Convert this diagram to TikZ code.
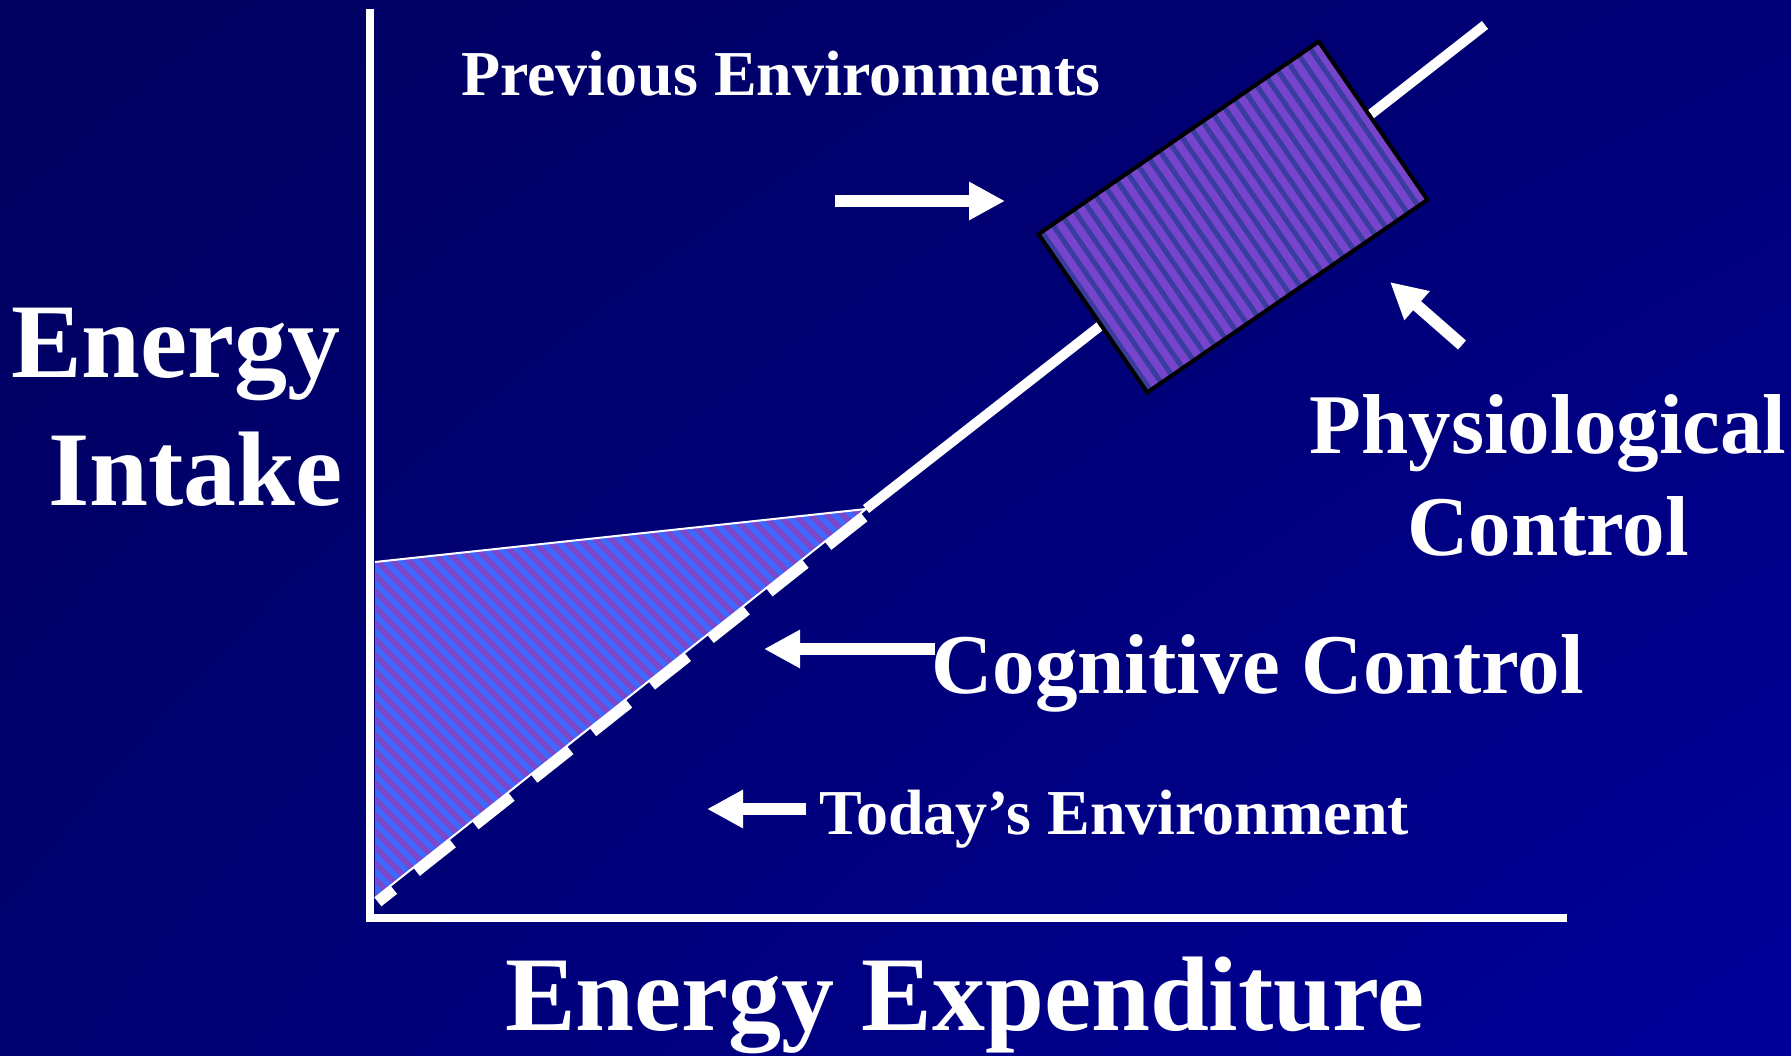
\documentclass[tikz,border=0pt]{standalone}
\usepackage{fontspec}
\setmainfont{Liberation Serif}
\usepackage{tikz}
\usetikzlibrary{arrows.meta, positioning, shadings}
\definecolor{bgTopLeft}{HTML}{00005E}
\definecolor{bgTopRight}{HTML}{000078}
\definecolor{bgBottomLeft}{HTML}{000070}
\definecolor{bgBottomRight}{HTML}{00009A}
\definecolor{colorBox}{HTML}{7744CC}
\definecolor{colorBoxStripe}{HTML}{3A3CA0}
\definecolor{colorWedge}{HTML}{7B48CC}
\definecolor{colorWedgeStripe}{HTML}{3A6AFF}
\tikzset{
  label big/.style={text=white, inner sep=0pt, font=\bfseries\fontsize{106}{127}\selectfont},
  label mid/.style={text=white, inner sep=0pt, font=\bfseries\fontsize{85}{102}\selectfont},
  label small/.style={text=white, inner sep=0pt, font=\bfseries\fontsize{64}{77}\selectfont},
  axis line/.style={white, line width=8pt},
  fat arrow/.style={white, line width=12pt, -{Triangle[length=36pt, width=36pt]}},
}

\begin{document}
\begin{tikzpicture}[x=1pt, y=-1pt]
\useasboundingbox (0,0) rectangle (1791,1056);
\shade[upper left=bgTopLeft, upper right=bgTopRight, lower left=bgBottomLeft, lower right=bgBottomRight] (0,0) rectangle (1791,1056);

% axes and the diagonal
\coordinate (ytop) at (370,9);
\coordinate (origin) at (370,918);
\coordinate (xend) at (1567,918);
\coordinate (foot) at (375,898);
\coordinate (apex) at (866,509);
\coordinate (high) at (1485,25);
\coordinate (wedgetop) at (375,562);
\draw[axis line] (ytop) -- (origin) -- (xend);
\draw[white, line width=11pt, dash pattern=on 46pt off 29pt, dash phase=26pt, transform canvas={shift={(3,4)}}] (foot) -- (apex);

% cognitive wedge
\fill[colorWedge] (wedgetop) -- (apex) -- (foot) -- cycle;
\begin{scope}
\clip (wedgetop) -- (apex) -- (foot) -- cycle;
\foreach \c in {-528,-512,...,368}
  \draw[colorWedgeStripe, line width=5pt] (500+\c,500) -- (900+\c,900);
\end{scope}
\draw[white, line width=2pt] (wedgetop) -- (apex) -- (foot);
\draw[white, line width=10pt] (apex) -- (high);

% physiological box
\begin{scope}[shift={(1233,217)}, rotate=34.5]
\fill[colorBox] (-170,-96) rectangle (170,96);
\begin{scope}
\clip (-170,-96) rectangle (170,96);
\foreach \u in {-166,-153,...,170}
  \draw[colorBoxStripe, line width=5pt] (\u,-100) -- (\u,100);
\end{scope}
\draw[black, line width=4pt] (-170,-96) rectangle (170,96);
\end{scope}

% labels
\node[label big, anchor=base east] (ylab1) at (341,378) {Energy};
\node[label big, anchor=base east] (ylab2) at (343,505) {Intake};
\node[label big, anchor=base] (xlab) at (965,1030) {Energy Expenditure};
\node[label small, anchor=base west] (prevenv) at (461,96) {Previous Environments};
\node[label mid, anchor=base] (phys1) at (1548,453) {Physiological};
\node[label mid, anchor=base] (phys2) at (1548,555) {Control};
\node[label mid, anchor=base west] (cogctrl) at (931,693) {Cognitive Control};
\node[label small, anchor=base west] (todayenv) at (819,834) {Today’s Environment};

% arrows
\coordinate (prevTail) at (835,201);
\coordinate (prevTip) at (1005,201);
\coordinate (physTail) at (1462,345);
\coordinate (physTip) at (1390,282);
\coordinate (cogTail) at (935,649);
\coordinate (cogTip) at (764,649);
\coordinate (todayTail) at (806,809);
\coordinate (todayTip) at (707,809);
\draw[fat arrow] (prevTail) -- (prevTip);
\draw[fat arrow] (physTail) -- (physTip);
\draw[fat arrow] (cogTail) -- (cogTip);
\draw[fat arrow] (todayTail) -- (todayTip);
\end{tikzpicture}
\end{document}
